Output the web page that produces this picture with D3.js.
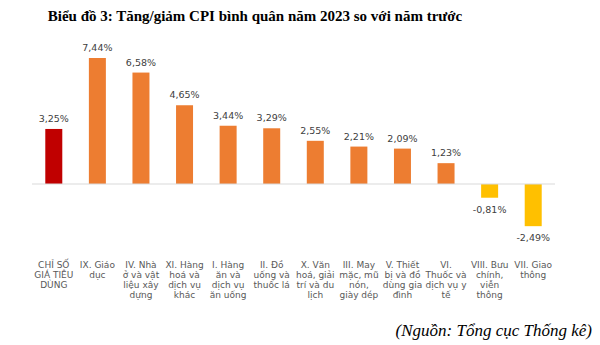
<!DOCTYPE html>
<html><head><meta charset="utf-8">
<script src="https://cdn.jsdelivr.net/npm/d3@7"></script>
<style>body{margin:0;background:#fff}svg{display:block}</style>
</head><body>
<script>
const title = "Biểu đồ 3: Tăng/giảm CPI bình quân năm 2023 so với năm trước";
const source = "(Nguồn: Tổng cục Thống kê)";
const categories = [
  "CHỈ SỐ\nGIÁ TIÊU\nDÙNG",
  "IX. Giáo\ndục",
  "IV. Nhà\nở và vật\nliệu xây\ndựng",
  "XI. Hàng\nhoá và\ndịch vụ\nkhác",
  "I. Hàng\năn và\ndịch vụ\năn uống",
  "II. Đồ\nuống và\nthuốc lá",
  "X. Văn\nhoá, giải\ntrí và du\nlịch",
  "III. May\nmặc, mũ\nnón,\ngiày dép",
  "V. Thiết\nbị và đồ\ndùng gia\nđình",
  "VI.\nThuốc và\ndịch vụ y\ntế",
  "VIII. Bưu\nchính,\nviễn\nthông",
  "VII. Giao\nthông"
];
const values = [3.25, 7.44, 6.58, 4.65, 3.44, 3.29, 2.55, 2.21, 2.09, 1.23, -0.81, -2.49];
const valueLabels = ["3,25%","7,44%","6,58%","4,65%","3,44%","3,29%","2,55%","2,21%","2,09%","1,23%","-0,81%","-2,49%"];

const W = 600, H = 345;
const svg = d3.select("body").append("svg").attr("width", W).attr("height", H);

const x = d3.scaleBand().domain(d3.range(categories.length)).range([32, 555]).paddingInner(0.61).paddingOuter(0.305);
const y = d3.scaleLinear().domain([0, 7.44]).range([184, 58]);

const color = (d, i) => i === 0 ? "#C00000" : (d < 0 ? "#FFC000" : "#ED7D31");

svg.append("text").attr("x", 255).attr("y", 21).attr("text-anchor", "middle")
  .attr("font-family", "Liberation Serif, Times New Roman, serif").attr("font-weight", "bold")
  .attr("font-size", 15).attr("fill", "#000").text(title);

svg.selectAll("rect.bar").data(values).join("rect").attr("class", "bar")
  .attr("x", (d, i) => x(i)).attr("width", x.bandwidth())
  .attr("y", d => Math.min(y(d), y(0))).attr("height", d => Math.abs(y(d) - y(0)))
  .attr("fill", color);

svg.append("line").attr("x1", 32).attr("x2", 555).attr("y1", y(0)).attr("y2", y(0))
  .attr("stroke", "#d9d9d9").attr("stroke-width", 1);

svg.selectAll("text.val").data(values).join("text").attr("class", "val")
  .attr("x", (d, i) => x(i) + x.bandwidth() / 2)
  .attr("y", d => d >= 0 ? y(d) - 7 : y(d) + 15)
  .attr("text-anchor", "middle").attr("font-family", "DejaVu Sans, Verdana, sans-serif")
  .attr("font-size", 9.5).attr("fill", "#404040")
  .text((d, i) => valueLabels[i]);

const cat = svg.selectAll("text.cat").data(categories).join("text").attr("class", "cat")
  .attr("text-anchor", "middle").attr("font-family", "DejaVu Sans, Verdana, sans-serif")
  .attr("font-size", 9).attr("fill", "#595959");
cat.each(function(d, i) {
  const t = d3.select(this);
  d.split("\n").forEach((line, j) => {
    t.append("tspan").attr("x", x(i) + x.bandwidth() / 2).attr("y", 268 + j * 10).text(line);
  });
});

svg.append("text").attr("x", 592).attr("y", 336).attr("text-anchor", "end")
  .attr("font-family", "Liberation Serif, Times New Roman, serif").attr("font-style", "italic")
  .attr("font-size", 17).attr("fill", "#000").text(source);
</script>
</body></html>
